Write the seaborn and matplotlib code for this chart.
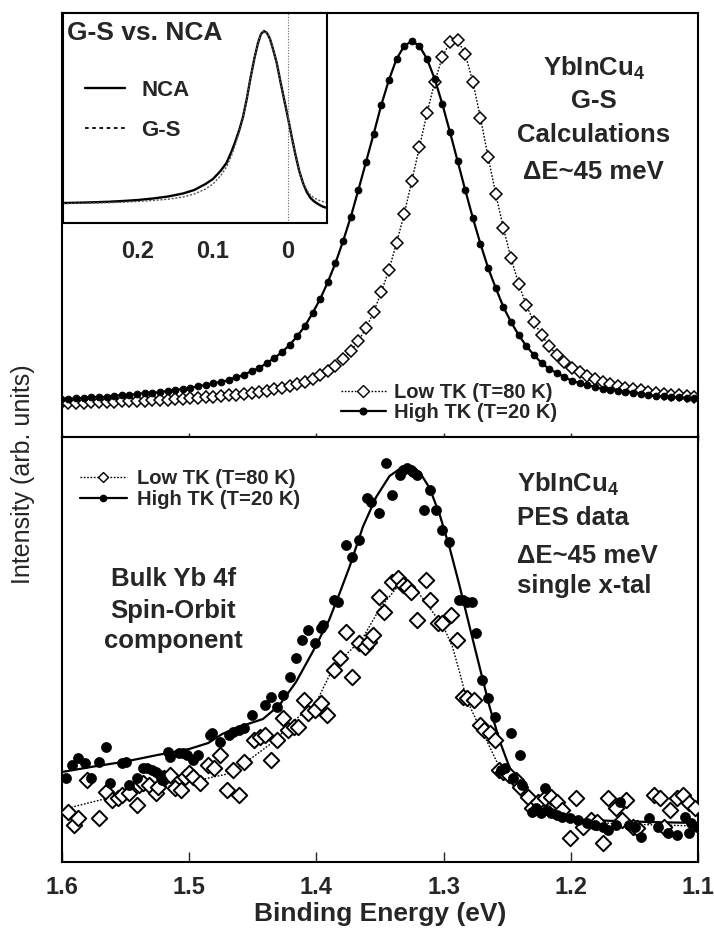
import numpy as np
import pandas as pd
import matplotlib
matplotlib.use("Agg")
import matplotlib.pyplot as plt
import seaborn as sns
from matplotlib.lines import Line2D

sns.set_theme(style="white")
plt.rcParams['font.family'] = ['Liberation Sans', 'DejaVu Sans']
plt.rcParams['mathtext.fontset'] = 'custom'
plt.rcParams['mathtext.rm'] = 'Liberation Sans'
plt.rcParams['mathtext.bf'] = 'Liberation Sans:bold'
plt.rcParams['axes.edgecolor'] = 'black'
plt.rcParams['axes.linewidth'] = 1.5

# ---------------- top panel: G-S calculations ----------------
E_calc = [1.601, 1.595, 1.589, 1.583, 1.577, 1.571, 1.565, 1.559, 1.553, 1.547,
          1.541, 1.535, 1.529, 1.523, 1.517, 1.511, 1.505, 1.499, 1.493, 1.487,
          1.481, 1.475, 1.469, 1.463, 1.457, 1.451, 1.445, 1.439, 1.433, 1.427,
          1.421, 1.415, 1.409, 1.403, 1.397, 1.391, 1.385, 1.379, 1.373, 1.367,
          1.361, 1.355, 1.349, 1.343, 1.337, 1.331, 1.325, 1.319, 1.313, 1.307,
          1.301, 1.295, 1.289, 1.283, 1.277, 1.271, 1.265, 1.259, 1.253, 1.247,
          1.241, 1.235, 1.229, 1.223, 1.217, 1.211, 1.205, 1.199, 1.193, 1.187,
          1.181, 1.175, 1.169, 1.163, 1.157, 1.151, 1.145, 1.139, 1.133, 1.127,
          1.121, 1.115, 1.109, 1.103]
calc_high = [34, 34, 35, 35, 36, 36, 36, 37, 38, 38,
             39, 40, 40, 41, 42, 43, 44, 45, 47, 48,
             50, 51, 53, 56, 58, 62, 65, 70, 75, 81,
             88, 97, 107, 120, 134, 151, 170, 192, 216, 243,
             271, 299, 328, 353, 374, 387, 392, 387, 374, 354,
             329, 301, 272, 243, 215, 189, 165, 145, 126, 111,
             98, 87, 78, 70, 64, 60, 56, 52, 50, 48,
             46, 44, 43, 42, 41, 40, 39, 38, 37, 37,
             36, 36, 35, 35]
calc_low = [30, 30, 30, 30, 31, 31, 31, 31, 32, 32,
            32, 32, 33, 33, 33, 34, 34, 35, 35, 36,
            36, 37, 38, 38, 39, 40, 41, 42, 44, 45,
            47, 49, 51, 54, 58, 62, 67, 74, 82, 92,
            105, 121, 141, 163, 190, 219, 252, 286, 320, 351,
            376, 391, 393, 379, 351, 315, 276, 239, 205, 175,
            149, 128, 111, 98, 87, 78, 71, 65, 61, 57,
            54, 51, 49, 47, 45, 44, 43, 41, 40, 39,
            38, 38, 37, 36]

# ---------------- inset: G-S vs NCA ----------------
E_inset = [0.300, 0.280, 0.260, 0.240, 0.220, 0.200, 0.180, 0.160, 0.140, 0.125,
           0.110, 0.100, 0.090, 0.082, 0.075, 0.070, 0.065, 0.060, 0.055, 0.050,
           0.045, 0.040, 0.036, 0.032, 0.028, 0.024, 0.020, 0.015, 0.010, 0.005,
           0.000, -0.005, -0.010, -0.015, -0.020, -0.025, -0.030, -0.035, -0.040,
           -0.046, -0.052]
nca = [20, 20.3, 20.7, 21.2, 22, 23, 24.5, 26.5, 29.5, 33,
       39, 44, 52, 60, 72, 82, 93, 106, 124, 145,
       164, 180, 189, 192, 190, 184, 174, 160, 141, 123,
       105, 86, 68, 52, 40, 31, 25, 21.5, 19, 16.5, 15]
gs = [19.5, 19.7, 20, 20.3, 20.8, 21.5, 22.5, 23.8, 26, 29,
      34, 39, 47, 56, 68, 79, 91, 105, 124, 145,
      164, 180, 189, 192, 190, 184, 174, 160, 141, 123,
      105, 86, 68, 52, 40, 33, 28, 25, 23, 21.5, 20.5]

# ---------------- bottom panel: PES data ----------------
E_pes_high = [1.5971, 1.5921, 1.5872, 1.5823, 1.5773, 1.5707, 1.5658, 1.5625, 1.5527, 1.5494,
              1.5477, 1.5411, 1.5362, 1.5329, 1.5296, 1.5263, 1.5231, 1.5214, 1.5165, 1.5148,
              1.5083, 1.5050, 1.5017, 1.4967, 1.4934, 1.4836, 1.4819, 1.4754, 1.4688, 1.4655,
              1.4606, 1.4573, 1.4507, 1.4408, 1.4359, 1.4309, 1.4260, 1.4211, 1.4161, 1.4112,
              1.4063, 1.4013, 1.3964, 1.3948, 1.3865, 1.3832, 1.3767, 1.3717, 1.3668, 1.3602,
              1.3569, 1.3504, 1.3454, 1.3405, 1.3339, 1.3323, 1.3290, 1.3257, 1.3240, 1.3207,
              1.3158, 1.3109, 1.3059, 1.3010, 1.2961, 1.2879, 1.2846, 1.2813, 1.2780, 1.2747,
              1.2698, 1.2648, 1.2599, 1.2550, 1.2517, 1.2467, 1.2451, 1.2402, 1.2385, 1.2303,
              1.2270, 1.2237, 1.2204, 1.2188, 1.2155, 1.2106, 1.2073, 1.2007, 1.1941, 1.1875,
              1.1809, 1.1744, 1.1711, 1.1645, 1.1612, 1.1546, 1.1497, 1.1448, 1.1382, 1.1316,
              1.1234, 1.1168, 1.1102, 1.1069, 1.1053, 1.1005]
I_pes_high = [84, 97, 104, 99, 84, 100, 115, 79, 99, 100,
              77, 84, 94, 94, 92, 90, 87, 82, 110, 105,
              109, 109, 107, 102, 107, 127, 129, 120, 127, 130,
              132, 134, 147, 157, 165, 155, 167, 185, 204, 222,
              232, 219, 234, 237, 262, 260, 317, 305, 322, 364,
              360, 349, 399, 367, 387, 392, 394, 392, 390, 387,
              352, 372, 352, 332, 320, 262, 262, 260, 260, 229,
              182, 164, 145, 92, 94, 129, 84, 107, 77, 50,
              54, 49, 74, 52, 49, 47, 45, 44, 42, 39,
              37, 35, 32, 37, 60, 37, 35, 25, 44, 35,
              29, 27, 45, 29, 39, 35]
E_pes_low = [1.5954, 1.5905, 1.5872, 1.5806, 1.5707, 1.5658, 1.5609, 1.5559, 1.5527, 1.5477,
             1.5411, 1.5395, 1.5362, 1.5313, 1.5263, 1.5247, 1.5198, 1.5148, 1.5115, 1.5066,
             1.5033, 1.5000, 1.4967, 1.4918, 1.4852, 1.4803, 1.4754, 1.4704, 1.4655, 1.4606,
             1.4573, 1.4490, 1.4441, 1.4408, 1.4359, 1.4309, 1.4260, 1.4227, 1.4178, 1.4145,
             1.4096, 1.4063, 1.4013, 1.3964, 1.3915, 1.3865, 1.3816, 1.3767, 1.3717, 1.3668,
             1.3619, 1.3586, 1.3553, 1.3504, 1.3471, 1.3405, 1.3356, 1.3323, 1.3290, 1.3257,
             1.3207, 1.3142, 1.3109, 1.3043, 1.3010, 1.2944, 1.2895, 1.2846, 1.2813, 1.2763,
             1.2714, 1.2681, 1.2632, 1.2599, 1.2566, 1.2533, 1.2484, 1.2434, 1.2402, 1.2336,
             1.2303, 1.2254, 1.2204, 1.2155, 1.2106, 1.2073, 1.2007, 1.1958, 1.1908, 1.1842,
             1.1793, 1.1744, 1.1711, 1.1645, 1.1596, 1.1563, 1.1513, 1.1481, 1.1349, 1.1300,
             1.1267, 1.1217, 1.1168, 1.1119, 1.1069, 1.1020]
I_pes_low = [50, 37, 44, 82, 44, 70, 62, 64, 67, 69,
             57, 77, 79, 77, 69, 75, 84, 87, 74, 72,
             85, 89, 85, 79, 97, 94, 107, 72, 92, 67,
             100, 122, 125, 127, 102, 122, 144, 132, 135, 135,
             162, 149, 152, 159, 147, 192, 204, 230, 185, 219,
             215, 220, 227, 265, 250, 280, 284, 277, 275, 270,
             242, 282, 262, 239, 239, 247, 222, 165, 164, 162,
             137, 132, 129, 122, 92, 90, 87, 82, 75, 65,
             54, 60, 64, 65, 60, 52, 24, 64, 35, 42,
             40, 19, 64, 54, 42, 62, 35, 34, 67, 64,
             35, 52, 64, 67, 59, 54]

E_fit_high = [1.600, 1.575, 1.550, 1.525, 1.500, 1.485, 1.474, 1.461, 1.442, 1.429,
              1.416, 1.403, 1.390, 1.382, 1.374, 1.3635, 1.353, 1.3425, 1.3346, 1.3268,
              1.3189, 1.311, 1.303, 1.295, 1.2874, 1.2795, 1.2717, 1.2638, 1.2559, 1.248,
              1.2376, 1.2244, 1.2087, 1.190, 1.164, 1.138, 1.100]
I_fit_high = [90, 95.5, 100.5, 107, 113, 119, 128, 135, 143, 157,
              180, 210, 242, 268, 295, 335, 365, 386, 393, 396,
              390, 374, 347, 313, 276, 235, 195, 155, 121, 94,
              70, 54, 44, 42, 41, 40, 39]
E_fit_low = [1.598, 1.570, 1.540, 1.503, 1.470, 1.453, 1.434, 1.416, 1.400, 1.390,
             1.377, 1.3635, 1.350, 1.337, 1.332, 1.325, 1.316, 1.308, 1.300, 1.293,
             1.287, 1.282, 1.274, 1.266, 1.2585, 1.248, 1.2376, 1.2244, 1.207, 1.185,
             1.160, 1.130, 1.100]
I_fit_low = [53, 62, 70, 79, 88, 102, 120, 143, 160, 186,
             207, 224, 254, 274, 280, 277, 263, 249, 235, 215,
             188, 163, 141, 121, 101, 84, 70, 58, 46, 40,
             38, 37, 36]

label_low = "Low TK (T=80 K)"
label_high = "High TK (T=20 K)"
xticks = [1.6, 1.5, 1.4, 1.3, 1.2, 1.1]
xticklabels = ["1.6", "1.5", "1.4", "1.3", "1.2", "1.1"]
inset_ticks = [0.2, 0.1, 0.0]
inset_ticklabels = ["0.2", "0.1", "0"]

# ---------------- figure ----------------
W, H = 714, 932
fig = plt.figure(figsize=(W / 100, H / 100), dpi=100)
fig.patch.set_facecolor('white')

def fx(px):
    return px / W

def fy(py):
    return 1 - py / H

L, R = 62, 698
ax1 = fig.add_axes([fx(L), fy(437), fx(R) - fx(L), fy(13) - fy(437)])
ax2 = fig.add_axes([fx(L), fy(862), fx(R) - fx(L), fy(437) - fy(862)])
axi = fig.add_axes([fx(63), fy(223), fx(327) - fx(63), fy(13) - fy(223)])

bold = dict(fontweight='bold')
dot_ls = (0, (1.2, 1.2))

# top panel
sns.lineplot(x=E_calc, y=calc_low, ax=ax1, color='black', linestyle=dot_ls,
             linewidth=1.0, marker='D', markersize=6.3, markerfacecolor='white',
             markeredgecolor='black', markeredgewidth=1.1, estimator=None, sort=False)
sns.lineplot(x=E_calc, y=calc_high, ax=ax1, color='black', linestyle='-',
             linewidth=1.6, marker='o', markersize=4.8, markerfacecolor='black',
             markeredgecolor='black', estimator=None, sort=False)
ax1.set_xlim(1.6, 1.1)
ax1.set_ylim(-4, 420)
ax1.set_yticks([])
ax1.set_xticks(xticks)
ax1.set_xticklabels([])
ax1.tick_params(axis='x', direction='inout', length=6, width=1, bottom=True, top=False)
ax1.set_xlabel('')
ax1.set_ylabel('')
h_low = Line2D([], [], color='black', linestyle=dot_ls, linewidth=1.0, marker='D',
               markersize=6, markerfacecolor='white', markeredgecolor='black', markeredgewidth=1.0)
h_high = Line2D([], [], color='black', linestyle='-', linewidth=1.6, marker='o',
                markersize=4.8, markerfacecolor='black', markeredgecolor='black')
ax1.legend([h_low, h_high], [label_low, label_high], loc='upper left',
           bbox_to_anchor=(0.439, 0.127), frameon=False, borderpad=0, borderaxespad=0,
           handlelength=2.2, handletextpad=0.4, labelspacing=0.05,
           prop=dict(weight='bold', size=14.5))
ax1.text(0.836, 0.870, r"YbInCu$_{\mathbf{4}}$", transform=ax1.transAxes, ha='center', va='center', fontsize=18.5, **bold)
ax1.text(0.836, 0.792, "G-S", transform=ax1.transAxes, ha='center', va='center', fontsize=18.5, **bold)
ax1.text(0.836, 0.712, "Calculations", transform=ax1.transAxes, ha='center', va='center', fontsize=18.5, **bold)
ax1.text(0.836, 0.625, "\u0394E~45 meV", transform=ax1.transAxes, ha='center', va='center', fontsize=18.5, **bold)

# inset
sns.lineplot(x=E_inset, y=nca, ax=axi, color='black', linewidth=1.7, estimator=None, sort=False)
sns.lineplot(x=E_inset, y=gs, ax=axi, color='#555555', linewidth=1.0, linestyle=(0, (1.5, 1.2)),
             estimator=None, sort=False)
axi.axvline(0.0, color='#666666', linewidth=0.8, linestyle=(0, (1, 1.5)))
axi.set_xlim(0.300, -0.052)
axi.set_ylim(0, 210)
axi.set_yticks([])
axi.set_xticks(inset_ticks)
axi.set_xticklabels(inset_ticklabels, fontsize=17, fontweight='bold')
axi.tick_params(axis='x', direction='in', length=4, width=1, pad=12)
axi.set_xlabel('')
axi.set_ylabel('')
axi.set_facecolor('white')
for s in axi.spines.values():
    s.set_linewidth(1.5)
hn = Line2D([], [], color='black', linewidth=1.7)
hg = Line2D([], [], color='black', linewidth=1.3, linestyle=(0, (2, 2)))
axi.legend([hn, hg], ["NCA", "G-S"], loc='upper left', bbox_to_anchor=(0.083, 0.68),
           frameon=False, borderpad=0, borderaxespad=0, handlelength=1.8,
           handletextpad=0.75, labelspacing=0.85, prop=dict(weight='bold', size=16))
axi.text(0.015, 0.905, "G-S vs. NCA", transform=axi.transAxes, ha='left', va='center',
         fontsize=19, **bold)

# bottom panel
sns.lineplot(x=E_fit_low, y=I_fit_low, ax=ax2, color='black', linestyle=dot_ls,
             linewidth=1.0, estimator=None, sort=False)
sns.lineplot(x=E_fit_high, y=I_fit_high, ax=ax2, color='black', linestyle='-',
             linewidth=1.6, estimator=None, sort=False)
sns.scatterplot(x=E_pes_low, y=I_pes_low, ax=ax2, marker='D', s=62, color='white',
                edgecolor='black', linewidth=1.4, zorder=3)
sns.scatterplot(x=E_pes_high, y=I_pes_high, ax=ax2, marker='o', s=52, color='black',
                edgecolor='black', linewidth=0.5, zorder=4)
ax2.set_xlim(1.6, 1.1)
ax2.set_ylim(0, 425)
ax2.set_yticks([])
ax2.set_xticks(xticks)
ax2.set_xticklabels(xticklabels, fontsize=17, fontweight='bold')
ax2.tick_params(axis='x', direction='in', length=7, width=1, pad=10, bottom=True, top=False)
ax2.set_xlabel("Binding Energy (eV)", fontsize=19, fontweight='bold', labelpad=2)
ax2.set_ylabel('')
hl2 = Line2D([], [], color='black', linestyle=dot_ls, linewidth=1.0, marker='D',
             markersize=5, markerfacecolor='white', markeredgecolor='black', markeredgewidth=1.0)
hh2 = Line2D([], [], color='black', linestyle='-', linewidth=1.6, marker='o',
             markersize=4.5, markerfacecolor='black', markeredgecolor='black')
ax2.legend([hl2, hh2], [label_low, label_high], loc='upper left',
           bbox_to_anchor=(0.028, 0.925), frameon=False, borderpad=0, borderaxespad=0,
           handlelength=2.35, handletextpad=0.5, labelspacing=0.12,
           prop=dict(weight='bold', size=14.5))
ax2.text(0.715, 0.89, r"YbInCu$_{\mathbf{4}}$", transform=ax2.transAxes, ha='left', va='center', fontsize=18.5, **bold)
ax2.text(0.715, 0.81, "PES data", transform=ax2.transAxes, ha='left', va='center', fontsize=18.5, **bold)
ax2.text(0.715, 0.72, "\u0394E~45 meV", transform=ax2.transAxes, ha='left', va='center', fontsize=18.5, **bold)
ax2.text(0.715, 0.65, "single x-tal", transform=ax2.transAxes, ha='left', va='center', fontsize=18.5, **bold)
ax2.text(0.175, 0.665, "Bulk Yb 4f", transform=ax2.transAxes, ha='center', va='center', fontsize=18.5, **bold)
ax2.text(0.175, 0.59, "Spin-Orbit", transform=ax2.transAxes, ha='center', va='center', fontsize=18.5, **bold)
ax2.text(0.175, 0.52, "component", transform=ax2.transAxes, ha='center', va='center', fontsize=18.5, **bold)

fig.text(fx(23), fy(474), "Intensity (arb. units)", rotation=90, ha='center', va='center', fontsize=18)

fig.savefig("out.png", dpi=100, facecolor='white')
